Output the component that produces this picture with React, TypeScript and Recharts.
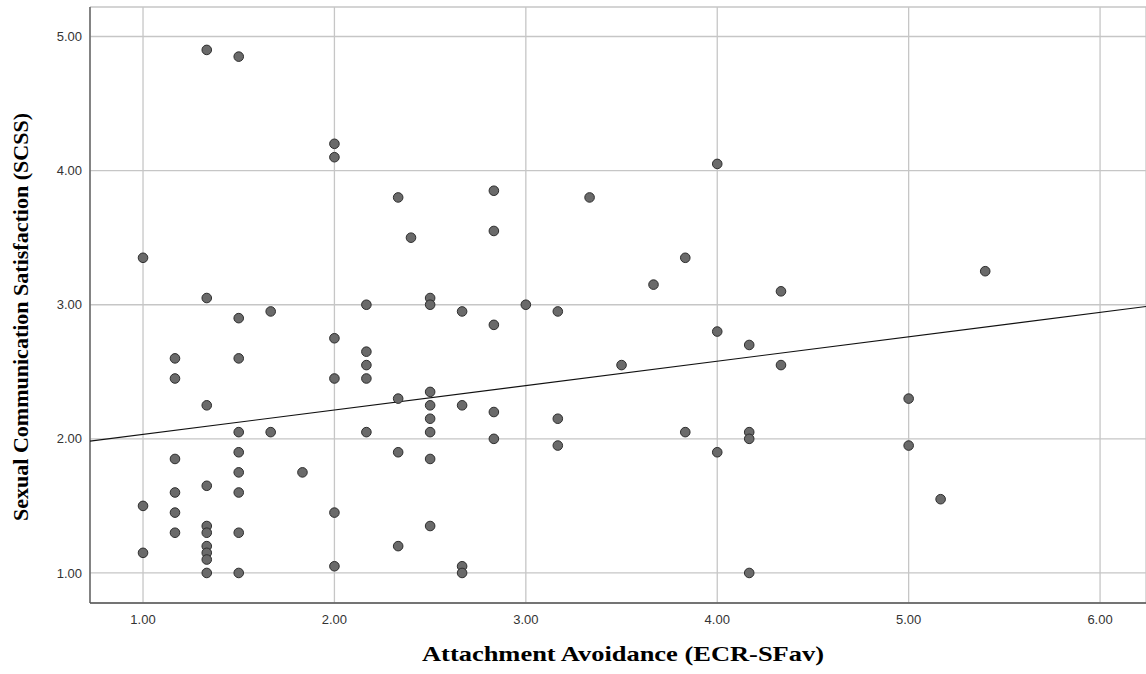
import React from 'react';
import { ScatterChart, Scatter, XAxis, YAxis, CartesianGrid } from 'recharts';

// Attachment avoidance (x) vs sexual communication satisfaction (y)
const avoidance = [
  1.0, 1.0, 1.0,
  1.167, 1.167, 1.167, 1.167, 1.167, 1.167,
  1.333, 1.333, 1.333, 1.333, 1.333, 1.333, 1.333, 1.333, 1.333, 1.333,
  1.5, 1.5, 1.5, 1.5, 1.5, 1.5, 1.5, 1.5, 1.5,
  1.667, 1.667,
  1.833,
  2.0, 2.0, 2.0, 2.0, 2.0, 2.0,
  2.167, 2.167, 2.167, 2.167, 2.167,
  2.333, 2.333, 2.333, 2.333,
  2.4,
  2.5, 2.5, 2.5, 2.5, 2.5, 2.5, 2.5, 2.5,
  2.667, 2.667, 2.667, 2.667,
  2.833, 2.833, 2.833, 2.833, 2.833,
  3.0,
  3.167, 3.167, 3.167,
  3.333,
  3.5,
  3.667,
  3.833, 3.833,
  4.0, 4.0, 4.0,
  4.167, 4.167, 4.167, 4.167,
  4.333, 4.333,
  5.0, 5.0,
  5.167,
  5.4,
];

const satisfaction = [
  3.35, 1.5, 1.15,
  2.6, 2.45, 1.85, 1.6, 1.45, 1.3,
  4.9, 3.05, 2.25, 1.65, 1.35, 1.3, 1.2, 1.15, 1.1, 1.0,
  4.85, 2.9, 2.6, 2.05, 1.9, 1.75, 1.6, 1.3, 1.0,
  2.95, 2.05,
  1.75,
  4.2, 4.1, 2.75, 2.45, 1.45, 1.05,
  3.0, 2.65, 2.55, 2.45, 2.05,
  3.8, 2.3, 1.9, 1.2,
  3.5,
  3.05, 3.0, 2.35, 2.25, 2.15, 2.05, 1.85, 1.35,
  2.95, 2.25, 1.05, 1.0,
  3.85, 3.55, 2.85, 2.2, 2.0,
  3.0,
  2.95, 2.15, 1.95,
  3.8,
  2.55,
  3.15,
  3.35, 2.05,
  4.05, 2.8, 1.9,
  2.7, 2.05, 2.0, 1.0,
  3.1, 2.55,
  2.3, 1.95,
  1.55,
  3.25,
];

const xTicks = [1, 2, 3, 4, 5, 6];
const yTicks = [1, 2, 3, 4, 5];
const xDomain = [0.723, 6.24];
const yDomain = [0.776, 5.22];

// fit line
const fitIntercept = 1.851;
const fitSlope = 0.182;

const points = avoidance.map((x, i) => ({ x, y: satisfaction[i] }));
const fitLine = xDomain.map((x) => ({ x, y: fitIntercept + fitSlope * x }));

const Dot = (props: any) => (
  <circle cx={props.cx} cy={props.cy} r={4.8} fill="#6a6a6a" stroke="#2e2e2e" strokeWidth={1} />
);

const titleFont = '"Liberation Serif", "Times New Roman", serif';
const tickFont = '"Liberation Sans", Arial, sans-serif';

export default function App() {
  return (
    <div style={{ position: 'absolute', left: 0, top: 0, background: '#fff' }}>
      <ScatterChart width={1146} height={674} margin={{ top: 7, right: 0, bottom: 0, left: 0 }}>
        <CartesianGrid stroke="#c6c6c6" strokeWidth={1.3} />
        <XAxis
          type="number"
          dataKey="x"
          domain={xDomain}
          ticks={xTicks}
          allowDataOverflow
          height={71}
          tickLine={false}
          tickSize={0}
          tickMargin={12}
          axisLine={{ stroke: '#555', strokeWidth: 1.3 }}
          tick={{ fill: '#333', fontSize: 13, fontFamily: tickFont }}
          tickFormatter={(v: number) => v.toFixed(2)}
          label={{
            value: 'Attachment Avoidance (ECR-SFav)',
            content: (p: any) => (
              <text
                x={p.viewBox.x + p.viewBox.width / 2 + 5}
                y={p.viewBox.y + 58}
                textAnchor="middle"
                fontFamily={titleFont}
                fontWeight="bold"
                fontSize={22}
                textLength={402}
                lengthAdjust="spacingAndGlyphs"
                fill="#000"
              >
                Attachment Avoidance (ECR-SFav)
              </text>
            ),
          }}
        />
        <YAxis
          type="number"
          dataKey="y"
          domain={yDomain}
          ticks={yTicks}
          allowDataOverflow
          width={90}
          tickLine={false}
          tickSize={0}
          tickMargin={8}
          axisLine={{ stroke: '#555', strokeWidth: 1.3 }}
          tick={{ fill: '#333', fontSize: 13, fontFamily: tickFont }}
          tickFormatter={(v: number) => v.toFixed(2)}
          label={{
            value: 'Sexual Communication Satisfaction (SCSS)',
            content: (p: any) => {
              const cx = 20;
              const cy = p.viewBox.y + p.viewBox.height / 2 + 12;
              return (
                <text
                  x={cx}
                  y={cy}
                  transform={`rotate(-90 ${cx} ${cy})`}
                  textAnchor="middle"
                  dominantBaseline="central"
                  fontFamily={titleFont}
                  fontWeight="bold"
                  fontSize={22}
                  textLength={408}
                  lengthAdjust="spacingAndGlyphs"
                  fill="#000"
                >
                  Sexual Communication Satisfaction (SCSS)
                </text>
              );
            },
          }}
        />
        <Scatter
          data={fitLine}
          line={{ stroke: '#111', strokeWidth: 1.2 }}
          shape={() => null}
          isAnimationActive={false}
        />
        <Scatter data={points} shape={Dot} isAnimationActive={false} />
      </ScatterChart>
    </div>
  );
}
